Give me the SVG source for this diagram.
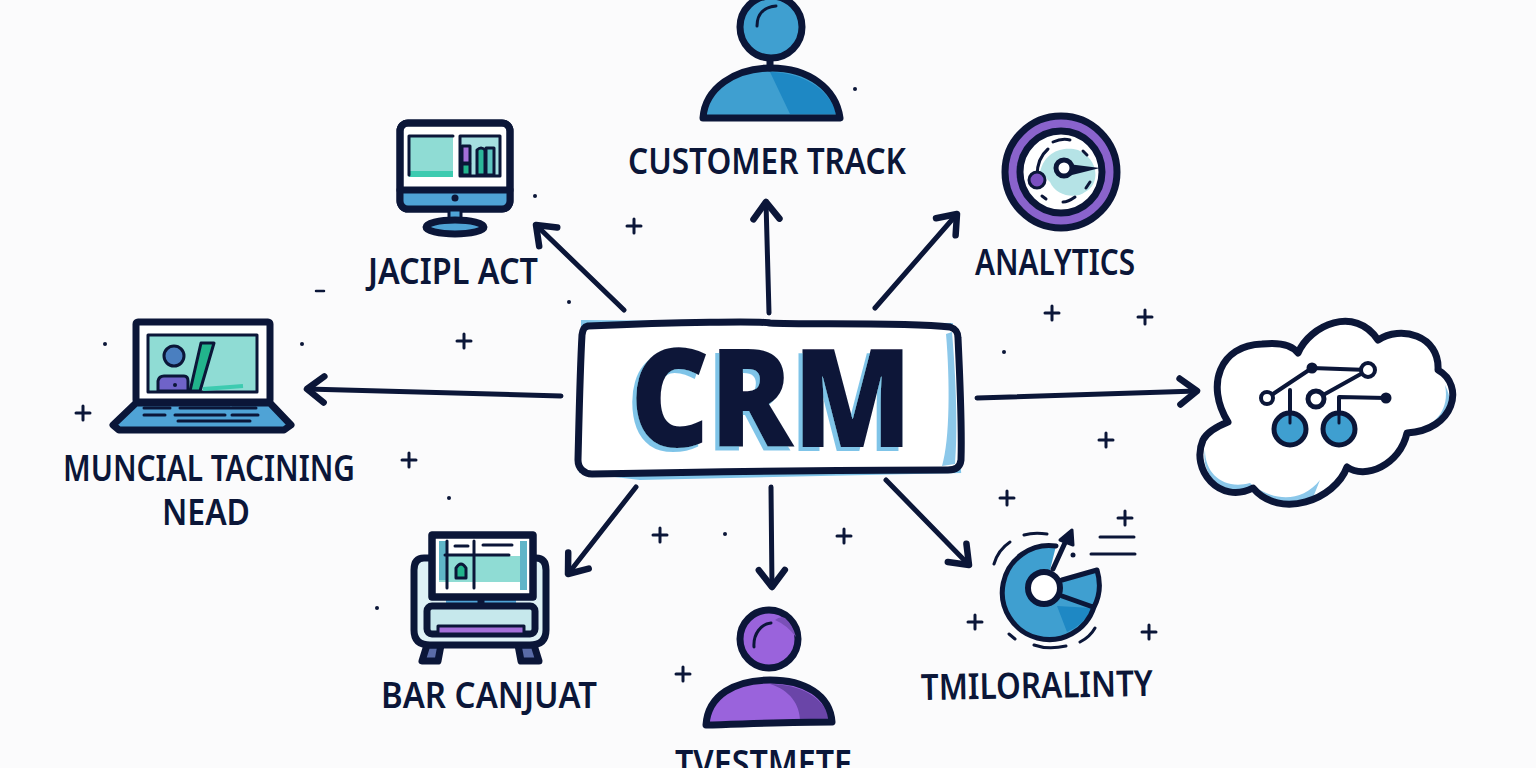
<svg xmlns="http://www.w3.org/2000/svg" width="1536" height="768" viewBox="0 0 1536 768">
<style>
.k{stroke:#0b1638;stroke-width:5;stroke-linecap:round;stroke-linejoin:round}
.t{stroke:#0b1638;stroke-width:3;stroke-linecap:round;stroke-linejoin:round}
.b{stroke:#0b1638;stroke-width:7;stroke-linejoin:round;stroke-linecap:round}
.l{font-family:"Noto Sans","Liberation Sans",sans-serif;font-weight:600;font-size:36px;fill:#0b1638}
.c{font-family:"Open Sans","Liberation Sans",sans-serif;font-weight:800;font-size:136px;fill:#0b1638}
.a{stroke:#0b1638;stroke-width:5;stroke-linecap:round;fill:none;marker-end:url(#h)}
.d{fill:#0b1638}
</style>
<defs>
<marker id="h" markerUnits="userSpaceOnUse" markerWidth="40" markerHeight="40" refX="28" refY="20" orient="auto" overflow="visible"><path d="M11 7 L28 20 L11 33" fill="none" stroke="#0b1638" stroke-width="6.5" stroke-linecap="round" stroke-linejoin="round"/></marker>
<path id="p" d="M-7 0H7M0 -7V7" stroke="#0b1638" stroke-width="3" stroke-linecap="round" fill="none"/>
<filter id="s" x="-10%" y="-10%" width="120%" height="120%"><feDropShadow dx="-4" dy="4" stdDeviation="0.4" flood-color="#7fc4e8"/></filter>
</defs>
<rect width="1536" height="768" fill="#fbfbfc"/>

<g id="connectors">
<path class="a" d="M624 310 L536 225"/>
<path class="a" d="M769 313 L766 202"/>
<path class="a" d="M875 308 L957 214"/>
<path class="a" d="M561 396 L307 389"/>
<path class="a" d="M977 398 L1197 391"/>
<path class="a" d="M636 487 L568 574"/>
<path class="a" d="M771 487 L772 587"/>
<path class="a" d="M886 480 L969 565"/>
</g>

<g id="crm">
<path d="M584 323 L950 326 L958 470 L640 477 L582 470 Z" fill="none" stroke="#7fc4e8" stroke-width="6"/>
<path d="M588 326 C680 322 760 321 770 323 C800 325 900 322 950 327 C956 329 958 332 958 338 C960 380 962 430 961 460 C960 468 955 470 948 470 C830 470 700 472 592 474 C584 474 578 468 578 460 C579 420 580 370 582 335 C583 329 584 327 588 326 Z" fill="#fff" stroke="#0b1638" stroke-width="7"/>
<path d="M952 332 C956 380 958 430 955 464 L942 466 C950 440 950 380 946 334Z" fill="#8cc8ea"/>
<text class="c" x="630" y="447" textLength="282" lengthAdjust="spacingAndGlyphs" filter="url(#s)">CRM</text>
</g>

<g id="customer-track">
<path d="M703 118 C705 88 735 68 771 68 C808 68 836 88 840 118 Z" fill="#3f9fd0"/>
<path d="M770 72 C800 72 830 88 836 114 L790 114 Z" fill="#1e88c4"/>
<path d="M703 118 C705 88 735 68 771 68 C808 68 836 88 840 118 Z" fill="none" class="b"/>
<path d="M770 58V68" class="b" fill="none"/>
<circle cx="771" cy="27" r="31" fill="#3f9fd0" class="b"/>
<path d="M757 26 C757 14 764 7 776 6" class="t" fill="none"/>
<text class="l" x="628" y="174" textLength="278" lengthAdjust="spacingAndGlyphs">CUSTOMER TRACK</text>
</g>

<g id="jacipl-act">
<rect x="400" y="123" width="110" height="86" rx="8" fill="#fff" class="b"/>
<path d="M401 191H509V201Q509 208 502 208H408Q401 208 401 201Z" fill="#4fa3d6"/>
<path d="M400 190H510" class="b" fill="none"/>
<rect x="400" y="123" width="110" height="86" rx="8" fill="none" class="b"/>
<rect x="409" y="136" width="44" height="40" fill="#8fdcd4"/>
<path d="M409 171H453V177H409Z" fill="#3dcbb0"/>
<path d="M409 175V136H453" class="t" fill="none"/>
<rect x="460" y="136" width="40" height="40" fill="#a5dfe0" class="t"/>
<rect x="462" y="146" width="8" height="17" fill="#a46fd8" class="t"/>
<rect x="462" y="164" width="8" height="11" fill="#22b48c" class="t"/>
<path d="M477 175V150Q481 146 485 150V175Z" fill="#2bb79a" class="t"/>
<path d="M486 175V148H494V175Z" fill="#5cc4c0" class="t"/>
<circle cx="455" cy="198" r="3.5" fill="#0b1638"/>
<rect x="449" y="210" width="12" height="12" fill="#4fa3d6" stroke="#0b1638" stroke-width="3"/>
<ellipse cx="455" cy="227" rx="29" ry="7" fill="#4fa3d6" class="b"/>
<text class="l" x="368" y="284" textLength="170" lengthAdjust="spacingAndGlyphs">JACIPL ACT</text>
</g>

<g id="analytics">
<circle cx="1061" cy="172" r="56" fill="#8a63cc" stroke="#0b1638" stroke-width="7"/>
<circle cx="1061" cy="172" r="41" fill="#fff" stroke="#0b1638" stroke-width="7"/>
<path d="M1040 172 C1045 150 1065 146 1078 150 C1100 160 1100 185 1085 192 C1075 200 1055 195 1050 182 Z" fill="#b5e3e6"/>
<path d="M1037 176 C1037 165 1041 155 1048 149M1053 142 Q1062 138 1070 140M1083 151L1087 155M1090 182L1086 188M1075 197 Q1068 202 1063 202M1042 196L1046 199" class="t" fill="none"/>
<circle cx="1037" cy="180" r="8" fill="#7a4fc0" stroke="#0b1638" stroke-width="3"/>
<path d="M1068 164 L1100 168 L1068 176Z" fill="#0b1638"/>
<circle cx="1064" cy="168" r="8" fill="#fff" stroke="#0b1638" stroke-width="5"/>
<text class="l" x="975" y="275" textLength="160" lengthAdjust="spacingAndGlyphs">ANALYTICS</text>
</g>

<g id="muncial">
<rect x="136" y="322" width="134" height="80" rx="2" fill="#fff" class="b"/>
<rect x="148" y="335" width="109" height="57" fill="#8fdcd4" class="t"/>
<path d="M201 343H214L200 391H190Z" fill="#22b48c" class="t"/>
<path d="M203 389C215 388 230 387 243 386" stroke="#3dcbb0" stroke-width="4" fill="none"/>
<circle cx="174" cy="356" r="10" fill="#4a7fc0" class="t"/>
<path d="M158 391V381Q159 376 164 376H184Q188 376 188 381V391Z" fill="#6f63c8" class="t"/>
<circle cx="175" cy="385" r="2" fill="#0b1638"/>
<path d="M136 403H270L291 425L284 430H119L113 425Z" fill="#4fa3d6" class="b"/>
<path d="M144 408H170M144 415H165M180 408H230M175 415H225M232 408H256M232 415H258M178 421H250" class="t" fill="none"/>
<text class="l"><tspan x="63" y="481" textLength="292" lengthAdjust="spacingAndGlyphs">MUNCIAL TACINING</tspan><tspan x="162" y="525" textLength="88" lengthAdjust="spacingAndGlyphs">NEAD</tspan></text>
</g>

<g id="bar-canjuat">
<path d="M427 645 L422 661 L438 661 L441 645Z" fill="#5a6ca8" class="b"/>
<path d="M518 645 L521 661 L539 661 L534 645Z" fill="#5a6ca8" class="b"/>
<path d="M430 558 H424 Q414 558 414 570 V630 Q414 645 430 645 H530 Q546 645 546 630 V570 Q546 558 536 558 H530 Z" fill="#dff1f6" class="b"/>
<rect x="446" y="597" width="70" height="9" fill="#4fa3d6"/>
<path d="M481 597V606" class="b"/>
<rect x="427" y="606" width="108" height="28" rx="5" fill="#c6e8ec" class="b"/>
<path d="M438 634 V626 H524 V634Z" fill="#a46fd8" class="t"/>
<rect x="432" y="535" width="101" height="62" fill="#fff" class="b"/>
<path d="M439 556H522V582H439Z" fill="#8fdcd4"/>
<path d="M439 541H447V580H439ZM520 541H527V590H520Z" fill="#5fb5c8"/>
<path d="M447 541V588M474 541V588M445 555H509M455 546H468M483 545H512" class="t" fill="none"/>
<path d="M456 578V568Q461 560 466 568V578Z" fill="#22b48c" class="t"/>
<rect x="432" y="535" width="101" height="62" fill="none" class="b"/>
<text class="l" x="381" y="708" textLength="216" lengthAdjust="spacingAndGlyphs">BAR CANJUAT</text>
</g>

<g id="investmete">
<path d="M706 725 C708 695 735 680 770 680 C805 680 830 695 832 722 C790 722 745 724 706 725 Z" fill="#9a63dc"/>
<path d="M770 684 C800 684 826 698 829 720 L800 721 C800 705 790 690 770 684Z" fill="#6a45a8"/>
<path d="M706 725 C708 695 735 680 770 680 C805 680 830 695 832 722 C790 722 745 724 706 725 Z" fill="none" class="b"/>
<circle cx="769" cy="639" r="29" fill="#9a63dc" class="b"/>
<path d="M775 620 Q787 625 796 637 Q793 625 785 618 Q780 616 775 620Z" fill="#7a50b8"/>
<path d="M754 647 C753 634 761 624 771 623" class="t" fill="none"/>
<text class="l" x="675" y="776" textLength="177" lengthAdjust="spacingAndGlyphs">TVESTMETE</text>
</g>

<g id="timeline">
<path d="M1056 546 A47 47 0 1 0 1094 607 Q1103 590 1097 570 L1062 580 L1050 570 Z" fill="#3f9fd0"/>
<path d="M1057 606 L1092 608 A47 47 0 0 1 1067 632Z" fill="#1e88c4"/>
<path d="M1056 546 A47 47 0 1 0 1094 607 Q1103 590 1097 570 L1062 580M1062 596 L1093 607" class="k" fill="none"/>
<circle cx="1044" cy="588" r="16" fill="#fff" stroke="#0b1638" stroke-width="6"/>
<path d="M1053 569 L1069 534" class="k" fill="none"/>
<path d="M1060 540 L1072 530 L1073 545Z" fill="#0b1638" class="t"/>
<path d="M994 564 Q998 550 1010 542M1024 535 Q1034 532 1047 534M1009 634L1015 639M1034 645 Q1048 650 1066 646M1080 642 Q1090 637 1095 628M1100 537H1134M1091 554H1135" class="t" stroke-width="4" fill="none"/>
<text class="l" x="921" y="698" textLength="232" lengthAdjust="spacingAndGlyphs" transform="rotate(-1 1037 698)">TMILORALINTY</text>
</g>

<g id="cloud">
<path d="M1228 422 C1205 385 1220 345 1262 344 C1280 342 1292 345 1298 353 C1310 325 1355 305 1378 340 C1400 325 1440 335 1438 370 C1465 385 1455 430 1407 433 C1400 465 1365 480 1347 467 C1335 500 1280 520 1253 488 C1220 505 1190 470 1203 440 C1207 432 1218 426 1228 422 Z" fill="#fff"/>
<path d="M1205 450 C1205 475 1225 490 1250 483 C1270 500 1300 505 1320 480 L1312 500 C1290 510 1270 505 1253 488 C1225 500 1200 475 1205 450Z M1445 385 C1450 410 1435 428 1410 430 L1407 433 C1445 432 1458 410 1445 385Z" fill="#8cc8ea"/>
<path d="M1228 422 C1205 385 1220 345 1262 344 C1280 342 1292 345 1298 353 C1310 325 1355 305 1378 340 C1400 325 1440 335 1438 370 C1465 385 1455 430 1407 433 C1400 465 1365 480 1347 467 C1335 500 1280 520 1253 488 C1220 505 1190 470 1203 440 C1207 432 1218 426 1228 422 Z" fill="none" stroke="#0b1638" stroke-width="7" stroke-linejoin="round"/>
<path d="M1267 398 L1312 368 L1368 370 L1316 399M1290 390V420M1339 420V397L1386 398" class="k" style="stroke-width:4" fill="none"/>
<circle cx="1267" cy="398" r="6" fill="#fff" stroke="#0b1638" stroke-width="4"/>
<circle cx="1312" cy="368" r="5.5" class="d"/>
<circle cx="1368" cy="370" r="7" fill="#fff" stroke="#0b1638" stroke-width="4"/>
<circle cx="1316" cy="399" r="8" fill="#fff" stroke="#0b1638" stroke-width="5"/>
<circle cx="1386" cy="398" r="5.5" class="d"/>
<circle cx="1290" cy="429" r="16" fill="#3f9fd0" stroke="#0b1638" stroke-width="5"/>
<circle cx="1339" cy="429" r="16" fill="#3f9fd0" stroke="#0b1638" stroke-width="5"/>
<path d="M1290 414V423M1339 414V423" class="t" fill="none"/>
</g>

<g id="sparkles">
<use href="#p" x="634" y="226"/><use href="#p" x="464" y="341"/><use href="#p" x="83" y="413"/><use href="#p" x="409" y="460"/>
<use href="#p" x="660" y="535"/><use href="#p" x="844" y="536"/><use href="#p" x="1052" y="313"/><use href="#p" x="1145" y="317"/>
<use href="#p" x="1106" y="440"/><use href="#p" x="1007" y="498"/><use href="#p" x="1125" y="518"/><use href="#p" x="975" y="622"/>
<use href="#p" x="1149" y="632"/><use href="#p" x="683" y="674"/>
<path d="M316 291H324" stroke="#0b1638" stroke-width="2.5" stroke-linecap="round"/>
<g class="d">
<circle cx="535" cy="196" r="2"/><circle cx="105" cy="344" r="2"/><circle cx="302" cy="344" r="2"/><circle cx="569" cy="302" r="2"/>
<circle cx="449" cy="498" r="2"/><circle cx="377" cy="608" r="2"/><circle cx="725" cy="534" r="2"/><circle cx="1004" cy="352" r="2"/>
<circle cx="855" cy="89" r="2"/><circle cx="1073" cy="555" r="2.5"/>
</g>
</g>
</svg>
